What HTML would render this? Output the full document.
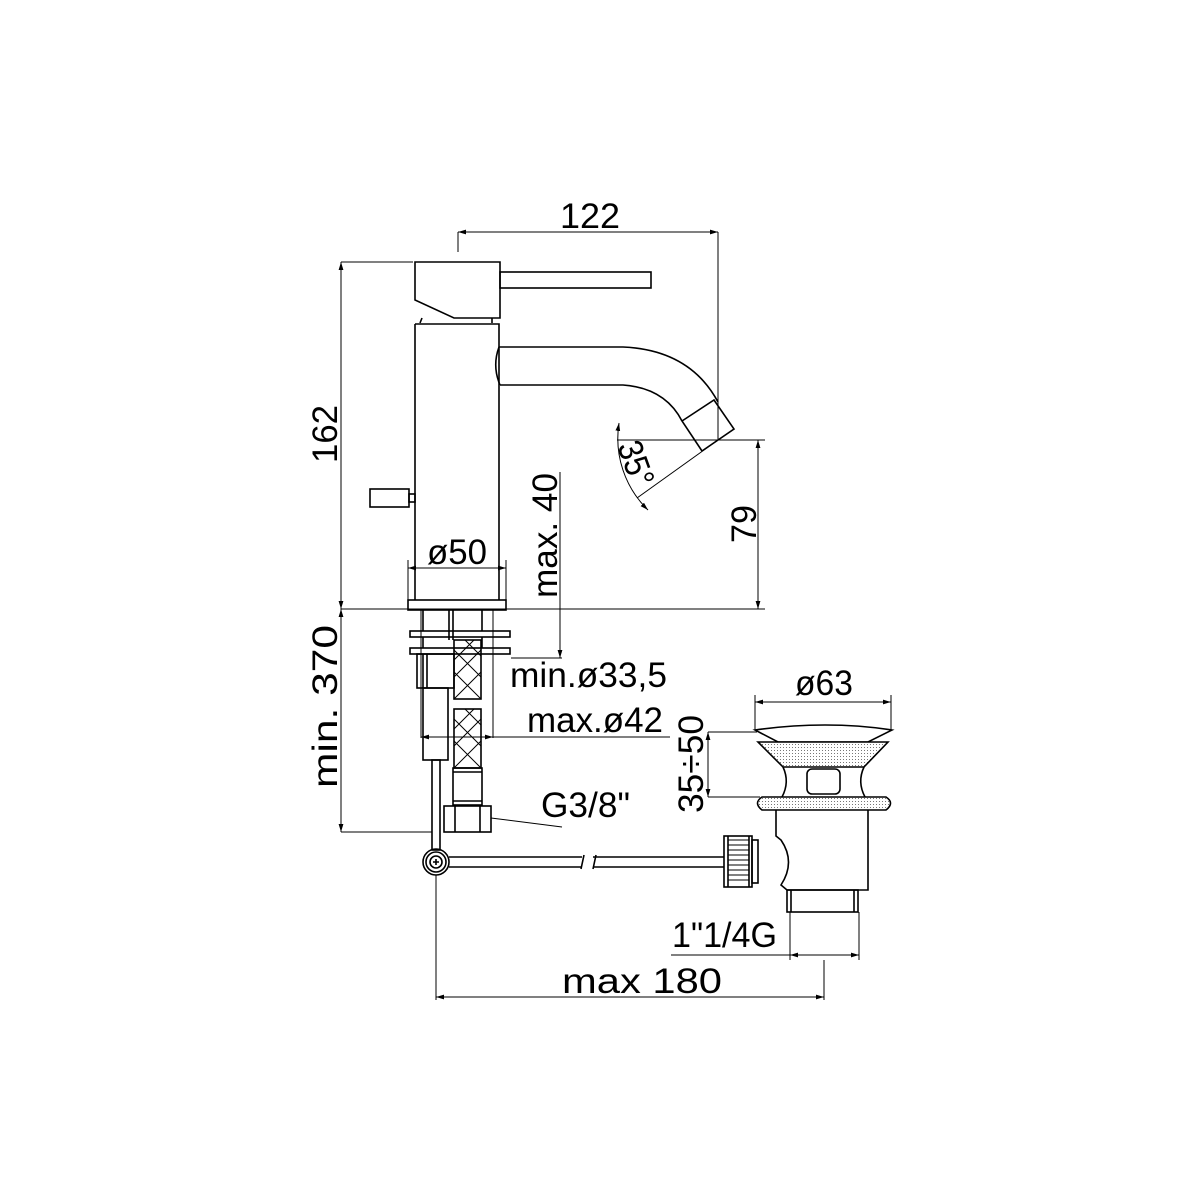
<!DOCTYPE html>
<html><head><meta charset="utf-8"><style>
html,body{margin:0;padding:0;background:#fff;}
svg{display:block;}
text{font-family:"Liberation Sans","DejaVu Sans",sans-serif;font-size:35px;fill:#000;}
</style></head><body>
<svg width="1200" height="1200" viewBox="0 0 1200 1200" xmlns="http://www.w3.org/2000/svg">
<defs>
<pattern id="dots" width="3" height="3" patternUnits="userSpaceOnUse"><rect width="3" height="3" fill="#fff"/><rect width="1" height="1" fill="#777"/></pattern>
<marker id="a" viewBox="0 0 10 6" refX="10" refY="3" markerWidth="8" markerHeight="5" orient="auto-start-reverse"><path d="M0,0 L10,3 L0,6 z" fill="#000"/></marker>
</defs>
<g fill="none" stroke="#000" stroke-width="1.6">
<path d="M415,262 H500 V318 H454 L415,300 Z"/>
<rect x="500" y="272" width="151" height="16"/>
<path d="M422,318 L420,323 M492,318 V323"/>
<path d="M415,324 H499 V600 M415,324 V600"/>
<path d="M499,347 H623 Q690,350 718,402"/>
<path d="M500,385 H623 Q665,388 682,421 L702,451"/>
<path d="M499,347 Q492,366 500,385"/>
<path d="M682,421 L714,400 L734,429 L702,451"/>
<rect x="370" y="489" width="39" height="18"/>
<rect x="409" y="494" width="6" height="8"/>
<rect x="408" y="600" width="98" height="10"/>
<path d="M423,610 V631 M482,610 V631 M449,610 V640 M453,610 V640"/>
<rect x="410" y="631" width="100" height="6"/>
<rect x="410" y="648" width="100" height="6"/>
<path d="M423,637 V648 M482,637 V648"/>
<rect x="417" y="654" width="37" height="34"/>
<path d="M423,654 V688 M427,654 V688"/>
<rect x="423" y="688" width="25" height="72"/>
<rect x="432" y="760" width="8" height="90"/>
<rect x="454" y="640" width="27" height="59"/>
<rect x="454" y="709" width="27" height="59"/>
<rect x="453" y="768" width="29" height="37"/>
<path d="M453,772 H482 M453,801 H482"/>
<rect x="444" y="806" width="47" height="26"/>
<path d="M455,806 V832 M480,806 V832"/>
<circle cx="436" cy="862" r="13"/><circle cx="436" cy="862" r="10"/><circle cx="436" cy="862" r="6"/>
<path d="M433,862 H439 M436,859 V865"/>
<path d="M449,857 H582 M449,867 H582 M584,855 L581,869"/>
<path d="M593,857 H724 M593,867 H724 M596,855 L593,869"/>
<rect x="724" y="836" width="28" height="51"/>
<path d="M728,836 V887 M749,836 V887"/>
<rect x="752" y="840" width="6" height="43"/>
<path d="M755,730 Q790,725 825,725 Q860,725 892,730 L868,742 H778 Z"/>
<path d="M758,742 H888 L864,767 H783 Z" fill="url(#dots)"/>
<path d="M783,767 Q790,782 782,797 M864,767 Q857,782 865,797"/>
<rect x="807" y="769" width="33" height="25" rx="5"/>
<path d="M762,797 H886 Q895,803 886,810 H762 Q753,803 762,797 Z" fill="url(#dots)"/>
<path d="M776,810 V836 L781,840 Q796,862 781,885 L787,890 H868 V810"/>
<rect x="787" y="890" width="71" height="22"/>
<path d="M791,890 V912 M854,890 V912"/>
</g>
<g stroke="#000" stroke-width="1">
<path d="M454,650 L481,677 M454,672 L481,699 M465,640 L481,656 M454,677 L481,650 M454,699 L481,672 M454,660 L474,640"/>
<path d="M454,719 L481,746 M454,741 L481,768 M465,709 L481,725 M454,746 L481,719 M454,768 L481,741 M454,729 L474,709"/>
<path d="M728,840 H749 M728,845 H749 M728,850 H749 M728,855 H749 M728,860 H749 M728,865 H749 M728,870 H749 M728,875 H749 M728,880 H749"/>
</g>
<g fill="none" stroke="#000" stroke-width="1">
<path d="M458,232 V252 M718,232 V440" /><path d="M458,232 H718" marker-start="url(#a)" marker-end="url(#a)"/>
<path d="M341,262 H413 M341,609 H765 M341,832 H432"/>
<path d="M341,262 V609" marker-start="url(#a)" marker-end="url(#a)"/>
<path d="M341,609 V832" marker-start="url(#a)" marker-end="url(#a)"/>
<path d="M617,440 H765"/>
<path d="M758,440 V609" marker-start="url(#a)" marker-end="url(#a)"/>
<path d="M718,440 L637,498"/>
<path d="M619,423 A100,100 0 0 0 648,510" marker-start="url(#a)" marker-end="url(#a)"/>
<path d="M560,472 V645"/><path d="M511,658 H562"/><path d="M560,645 V658" marker-end="url(#a)"/>
<path d="M408,568 H506" marker-start="url(#a)" marker-end="url(#a)"/>
<path d="M408,560 V600 M506,560 V600"/>
<path d="M421,610 V738 M493,610 V738"/>
<path d="M421,737 H670" marker-start="url(#a)"/><path d="M470,737 H493" marker-end="url(#a)"/>
<path d="M491,818 L562,827"/>
<path d="M755,702 H891" marker-start="url(#a)" marker-end="url(#a)"/>
<path d="M755,695 V730 M891,695 V730"/>
<path d="M708,732 H757 M708,797 H760"/>
<path d="M708,732 V797" marker-start="url(#a)" marker-end="url(#a)"/>
<path d="M790,912 V960 M859,912 V960"/>
<path d="M671,955 H859"/><path d="M790,955 H859" marker-start="url(#a)" marker-end="url(#a)"/>
<path d="M436,875 V1000 M824,960 V1000"/>
<path d="M436,997 H824" marker-start="url(#a)" marker-end="url(#a)"/>
</g>
<g>
<text x="560" y="228" textLength="60" lengthAdjust="spacingAndGlyphs">122</text>
<text transform="translate(337,463) rotate(-90)" textLength="58" lengthAdjust="spacingAndGlyphs">162</text>
<text transform="translate(337,788) rotate(-90)" textLength="163" lengthAdjust="spacingAndGlyphs">min. 370</text>
<text transform="translate(557,598) rotate(-90)" textLength="125" lengthAdjust="spacingAndGlyphs">max. 40</text>
<text transform="translate(756,543) rotate(-90)" textLength="38" lengthAdjust="spacingAndGlyphs">79</text>
<text transform="translate(617,446) rotate(70)" textLength="46" lengthAdjust="spacingAndGlyphs">35°</text>
<text x="427" y="564" textLength="60" lengthAdjust="spacingAndGlyphs">ø50</text>
<text x="510" y="687" textLength="157" lengthAdjust="spacingAndGlyphs">min.ø33,5</text>
<text x="527" y="732" textLength="136" lengthAdjust="spacingAndGlyphs">max.ø42</text>
<text x="795" y="695" textLength="58" lengthAdjust="spacingAndGlyphs">ø63</text>
<text transform="translate(703,813) rotate(-90)" textLength="98" lengthAdjust="spacingAndGlyphs">35÷50</text>
<text x="541" y="817" textLength="89" lengthAdjust="spacingAndGlyphs">G3/8"</text>
<text x="672" y="947" textLength="105" lengthAdjust="spacingAndGlyphs">1"1/4G</text>
<text x="562" y="993" textLength="160" lengthAdjust="spacingAndGlyphs">max 180</text>
</g>
</svg>
</body></html>
